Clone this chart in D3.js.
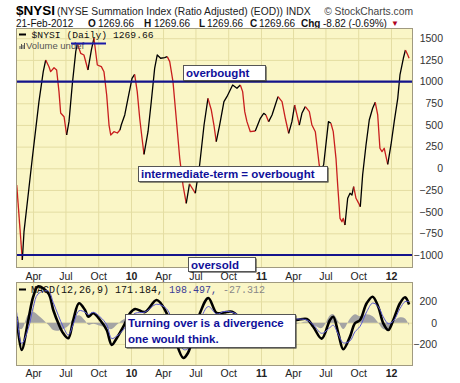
<!DOCTYPE html>
<html>
<head>
<meta charset="utf-8">
<title>$NYSI</title>
<script src="https://d3js.org/d3.v7.min.js"></script>
<style>
    body { margin: 0; background: #fff; }
    text { font-family: Arial, "Liberation Sans", sans-serif; }
    .mono { font-family: "Liberation Mono", "Courier New", monospace; }
    .note { font-weight: bold; fill: #10109a; font-size: 11.5px; }
</style>
</head>
<body>
<svg id="chart" width="460" height="383"></svg>
<script>
// NYSI daily (dates as decimal years)
const nysiT = [2009.121, 2009.164, 2009.177, 2009.215, 2009.241, 2009.292, 2009.325, 2009.344, 2009.369, 2009.382,
    2009.408, 2009.428, 2009.446, 2009.459, 2009.485, 2009.505, 2009.523, 2009.548, 2009.575, 2009.587,
    2009.613, 2009.638, 2009.669, 2009.695, 2009.715, 2009.741, 2009.772, 2009.792, 2009.813, 2009.831,
    2009.844, 2009.869, 2009.895, 2009.915, 2009.925, 2009.952, 2009.977, 2010.008, 2010.028, 2010.048,
    2010.067, 2010.085, 2010.100, 2010.131, 2010.156, 2010.182, 2010.202, 2010.228, 2010.259, 2010.279,
    2010.298, 2010.323, 2010.348, 2010.375, 2010.400, 2010.425, 2010.450, 2010.495, 2010.528, 2010.562,
    2010.592, 2010.618, 2010.638, 2010.656, 2010.682, 2010.715, 2010.738, 2010.782, 2010.815, 2010.841,
    2010.859, 2010.875, 2010.892, 2010.918, 2010.956, 2010.995, 2011.021, 2011.038, 2011.059, 2011.085,
    2011.110, 2011.131, 2011.162, 2011.187, 2011.213, 2011.238, 2011.259, 2011.277, 2011.295, 2011.315,
    2011.341, 2011.372, 2011.392, 2011.418, 2011.448, 2011.458, 2011.482, 2011.519, 2011.538, 2011.556,
    2011.577, 2011.590, 2011.608, 2011.623, 2011.633, 2011.646, 2011.667, 2011.685, 2011.700, 2011.713,
    2011.731, 2011.752, 2011.764, 2011.782, 2011.808, 2011.833, 2011.859, 2011.879, 2011.898, 2011.915,
    2011.931, 2011.948, 2011.962, 2011.975, 2012.000, 2012.025, 2012.052, 2012.069, 2012.095, 2012.111,
    2012.129, 2012.139];
const nysiV = [-193, -1058, -731, -227, 119, 768, 1114, 1249, 1172, 1114,
    1160, 1134, 884, 638, 595, 384, 538, 961, 1345, 1442,
    1326, 1307, 1134, 1364, 1500, 1191, 1172, 1114, 845, 499,
    384, 422, 407, 441, 499, 615, 807, 1038, 1084, 884,
    577, 346, 161, 422, 768, 1153, 1307, 1269, 1276, 1288,
    1230, 999, 577, 115, -193, -404, -180, -288, 38, 499,
    807, 672, 499, 307, 499, 768, 826, 961, 923, 961,
    884, 653, 538, 422, 430, 577, 634, 615, 538, 615,
    730, 826, 768, 577, 403, 538, 730, 615, 499, 634,
    711, 653, 499, 422, 38, -20, 38, 538, 519, 422,
    115, -193, -577, -616, -577, -654, -346, -288, -308, -212,
    -346, -404, -443, -77, 269, 557, 692, 761, 615, 231,
    192, 231, 134, 46, 269, 538, 807, 1076, 1269, 1364,
    1307, 1270];

// MACD(12,26,9)
const macdT = [2009.121, 2009.159, 2009.210, 2009.248, 2009.285, 2009.364, 2009.402, 2009.441, 2009.479, 2009.518,
    2009.556, 2009.600, 2009.646, 2009.672, 2009.710, 2009.762, 2009.813, 2009.852, 2009.890, 2009.941,
    2009.992, 2010.031, 2010.108, 2010.198, 2010.275, 2010.338, 2010.402, 2010.438, 2010.531, 2010.595,
    2010.659, 2010.715, 2010.777, 2010.877, 2010.977, 2011.108, 2011.223, 2011.275, 2011.352, 2011.402,
    2011.467, 2011.531, 2011.556, 2011.595, 2011.633, 2011.685, 2011.723, 2011.762, 2011.813, 2011.859,
    2011.902, 2011.941, 2011.979, 2012.018, 2012.069, 2012.108, 2012.139];
const macdV = [56, -256, 25, 244, 340, 276, 119, -6, -100, -146,
    25, 182, 119, 56, 88, 25, -69, -209, -146, -38,
    88, 128, 100, 213, 88, -150, -331, -285, 91, 232,
    91, 95, 103, 0, -80, 60, 30, 25, 35, -38,
    -150, 25, 56, -100, -250, -131, -6, 25, 182, 244,
    150, -6, -69, 25, 182, 238, 171];
const signalV = [96, -196, -55, 144, 270, 296, 189, 69, -40, -116,
    -15, 112, 99, 76, 98, 55, -19, -149, -126, -68,
    38, 88, 100, 173, 128, -60, -251, -245, 21, 152,
    81, 105, 98, 40, -40, 30, 30, 35, 25, -18,
    -100, -45, -24, -110, -190, -171, -86, -35, 102, 184,
    150, 54, -9, 15, 132, 198, 198];
const histV = [-40, -60, 80, 100, 70, -20, -70, -75, -60, -30,
    40, 70, 20, -20, -10, -30, -50, -60, -20, 30,
    50, 40, 0, 40, -40, -90, -80, -40, 70, 80,
    10, -10, 5, -40, -40, 30, 0, -10, 10, -20,
    -50, 70, 80, 10, -60, 40, 80, 60, 80, 60,
    0, -60, -60, 10, 50, 40, -27];

const xTickDates = ["2009-04-01", "2009-07-01", "2009-10-01", "2010-01-01", "2010-04-01", "2010-07-01",
    "2010-10-01", "2011-01-01", "2011-04-01", "2011-07-01", "2011-10-01", "2012-01-01"];
const xTickLabels = ["Apr", "Jul", "Oct", "10", "Apr", "Jul", "Oct", "11", "Apr", "Jul", "Oct", "12"];
const nysiTicks = [1500, 1250, 1000, 750, 500, 250, 0, -250, -500, -750, -1000];
const macdTicks = [200, 0, -200];
const levels = [1000, -1000];

const svg = d3.select("#chart");
const left = 16, right = 413;
const mainTop = 28, mainBottom = 268;
const lowTop = 282, lowBottom = 366;
const bg = "#faf6c6", grid = "#e4dda2";

function yearDate(t) {
    const y = Math.floor(t);
    const a = new Date(y, 0, 1), b = new Date(y + 1, 0, 1);
    return new Date(+a + (t - y) * (b - a));
}
const tickDates = xTickDates.map(d => d3.timeParse("%Y-%m-%d")(d));

const x = d3.scaleTime().domain([yearDate(2009.1154), yearDate(2012.169)]).range([left, right]);
const yMain = d3.scaleLinear().domain([-1150, 1618]).range([mainBottom, mainTop]);
const yMacd = d3.scaleLinear().domain([-407, 382]).range([lowBottom, lowTop]);

// header
svg.append("text").attr("x", 16).attr("y", 15).style("font-size", "13.5px").style("font-weight", "bold").text("$NYSI");
svg.append("text").attr("x", 57).attr("y", 15).style("font-size", "10.3px").attr("fill", "#222")
    .text("(NYSE Summation Index (Ratio Adjusted) (EOD))  INDX");
svg.append("text").attr("x", 413).attr("y", 15).attr("text-anchor", "end").style("font-size", "10.3px").attr("fill", "#444")
    .text("© StockCharts.com");

const hdr = [
    [16, "21-Feb-2012", false], [88, "O", true], [98, "1269.66", false], [144, "H", true], [154, "1269.66", false],
    [199, "L", true], [207, "1269.66", false], [250, "C", true], [259, "1269.66", false],
    [301, "Chg", true], [323, "-8.82 (-0.69%)", false]
];
hdr.forEach(h => {
    svg.append("text").attr("x", h[0]).attr("y", 26.5).style("font-size", "10px")
        .style("font-weight", h[2] ? "bold" : "normal").attr("fill", "#111").text(h[1]);
});
svg.append("text").attr("x", 391).attr("y", 26).style("font-size", "8px").attr("fill", "#b00020").text("▼");

// panels
function panel(top, bottom, yScale, ticks, labelX, id) {
    svg.append("rect").attr("x", left).attr("y", top).attr("width", right - left).attr("height", bottom - top).attr("fill", bg);
    svg.append("g").attr("transform", "translate(0," + bottom + ")")
        .call(d3.axisBottom(x).tickValues(tickDates).tickSize(-(bottom - top)).tickFormat(""))
        .call(g => { g.select(".domain").remove(); g.selectAll("line").attr("stroke", grid); });
    svg.append("g").attr("transform", "translate(" + left + ",0)")
        .call(d3.axisRight(yScale).tickValues(ticks).tickSize(right - left).tickFormat(""))
        .call(g => { g.select(".domain").remove(); g.selectAll("line").attr("stroke", grid); });
    svg.append("clipPath").attr("id", id).append("rect")
        .attr("x", left).attr("y", top).attr("width", right - left).attr("height", bottom - top);
    // y labels
    svg.append("g").attr("transform", "translate(" + labelX + ",0)")
        .call(d3.axisRight(yScale).tickValues(ticks).tickSize(0).tickPadding(0).tickFormat(d3.format("d")))
        .call(g => {
            g.select(".domain").remove();
            g.selectAll("text").attr("text-anchor", "end").attr("fill", "#333")
                .style("font-size", "10.5px").style("font-family", "Arial, 'Liberation Sans', sans-serif");
        });
    // x labels
    svg.append("g").attr("transform", "translate(0," + bottom + ")")
        .call(d3.axisBottom(x).tickValues(tickDates).tickSize(0).tickPadding(top < 100 ? 4.5 : 3.5)
            .tickFormat((d, i) => xTickLabels[i]))
        .call(g => {
            g.select(".domain").remove();
            g.selectAll("text").attr("fill", "#222").style("font-size", "10.5px")
                .style("font-family", "Arial, 'Liberation Sans', sans-serif")
                .style("font-weight", (d, i) => /^\d+$/.test(xTickLabels[i]) ? "bold" : "normal");
        });
}
panel(mainTop, mainBottom, yMain, nysiTicks, 443, "clipMain");
panel(lowTop, lowBottom, yMacd, macdTicks, 437, "clipLow");

// NYSI line, black while rising, red while falling
const nysi = nysiT.map((t, i) => ({date: yearDate(t), value: nysiV[i]}));
const runs = [];
let cur = {up: nysi[1].value > nysi[0].value, pts: [nysi[0]]};
for (let i = 1; i < nysi.length; i++) {
    const d = nysi[i].value - nysi[i - 1].value;
    let u = cur.up;
    if (d > 50) u = true; else if (d < -50) u = false;
    if (u !== cur.up) { runs.push(cur); cur = {up: u, pts: [nysi[i - 1]]}; }
    cur.pts.push(nysi[i]);
}
runs.push(cur);

const mainLine = d3.line().x(d => x(d.date)).y(d => yMain(d.value));
const gMain = svg.append("g").attr("clip-path", "url(#clipMain)");
gMain.selectAll("path.run").data(runs).join("path").attr("class", "run")
    .attr("d", d => mainLine(d.pts)).attr("fill", "none")
    .attr("stroke", d => d.up ? "#000" : "#c81e1e").attr("stroke-width", 1.3).attr("stroke-linejoin", "round");

// overbought / oversold levels
gMain.selectAll("line.level").data(levels).join("line").attr("class", "level")
    .attr("x1", left).attr("x2", right).attr("y1", d => yMain(d)).attr("y2", d => yMain(d))
    .attr("stroke", "#14148c").attr("stroke-width", 2.2);

// MACD panel
const macd = macdT.map((t, i) => ({date: yearDate(t), macd: macdV[i], signal: signalV[i], hist: histV[i]}));
const gLow = svg.append("g").attr("clip-path", "url(#clipLow)");
gLow.append("path").datum(macd)
    .attr("d", d3.area().curve(d3.curveCatmullRom).x(d => x(d.date)).y0(yMacd(0)).y1(d => yMacd(d.hist)))
    .attr("fill", "#a4a4a4");
gLow.append("path").datum(macd)
    .attr("d", d3.line().curve(d3.curveCatmullRom).x(d => x(d.date)).y(d => yMacd(d.macd)))
    .attr("fill", "none").attr("stroke", "#000").attr("stroke-width", 2.6);
gLow.append("path").datum(macd)
    .attr("d", d3.line().curve(d3.curveCatmullRom).x(d => x(d.date)).y(d => yMacd(d.signal)))
    .attr("fill", "none").attr("stroke", "#5a5ad2").attr("stroke-width", 1);

// legends (over the lines)
svg.append("line").attr("x1", 19).attr("x2", 26).attr("y1", 34.5).attr("y2", 34.5).attr("stroke", "#000").attr("stroke-width", 2);
svg.append("text").attr("class", "mono").attr("x", 31.5).attr("y", 38).style("font-size", "9.7px").attr("fill", "#111")
    .text("$NYSI (Daily) 1269.66");
[3, 5, 4, 6].forEach((h, i) => {
    svg.append("rect").attr("x", 19.5 + i * 1.5).attr("y", 49 - h).attr("width", 1).attr("height", h).attr("fill", "#555");
});
svg.append("text").attr("x", 26).attr("y", 49).style("font-size", "9.5px").attr("fill", "#555").text("Volume undef");
svg.append("line").attr("x1", 71).attr("x2", 106).attr("y1", 43.5).attr("y2", 43.5).attr("stroke", "#1a1aa8").attr("stroke-width", 2);

svg.append("line").attr("x1", 19).attr("x2", 26).attr("y1", 289.5).attr("y2", 289.5).attr("stroke", "#000").attr("stroke-width", 2);
const ml = svg.append("text").attr("class", "mono").attr("x", 31).attr("y", 293).style("font-size", "10px");
ml.append("tspan").attr("fill", "#111").text("MACD(12,26,9) 171.184, ");
ml.append("tspan").attr("fill", "#3c3c96").text("198.497, ");
ml.append("tspan").attr("fill", "#888").text("-27.312");

// borders
[[mainTop, mainBottom], [lowTop, lowBottom]].forEach(p => {
    svg.append("rect").attr("x", left + 0.5).attr("y", p[0] + 0.5).attr("width", right - left - 1).attr("height", p[1] - p[0] - 1)
        .attr("fill", "none").attr("stroke", "#a09a80");
});

// annotation boxes
function note(x0, y0, w, h, lines, baselines) {
    svg.append("rect").attr("x", x0 + 1.5).attr("y", y0 + 1.5).attr("width", w).attr("height", h).attr("fill", "#222");
    svg.append("rect").attr("x", x0 + 0.5).attr("y", y0 + 0.5).attr("width", w).attr("height", h)
        .attr("fill", "#fff").attr("stroke", "#555");
    lines.forEach((s, i) => {
        svg.append("text").attr("class", "note").attr("x", x0 + 3).attr("y", baselines[i]).text(s);
    });
}
note(183, 65, 82, 15, ["overbought"], [77]);
note(138, 166, 189, 15, ["intermediate-term = overbought"], [178]);
note(188, 257, 67, 14, ["oversold"], [268.5]);
note(125, 314, 170, 33, ["Turning over is a divergence", "one would think."], [327, 343]);
</script>
</body>
</html>
